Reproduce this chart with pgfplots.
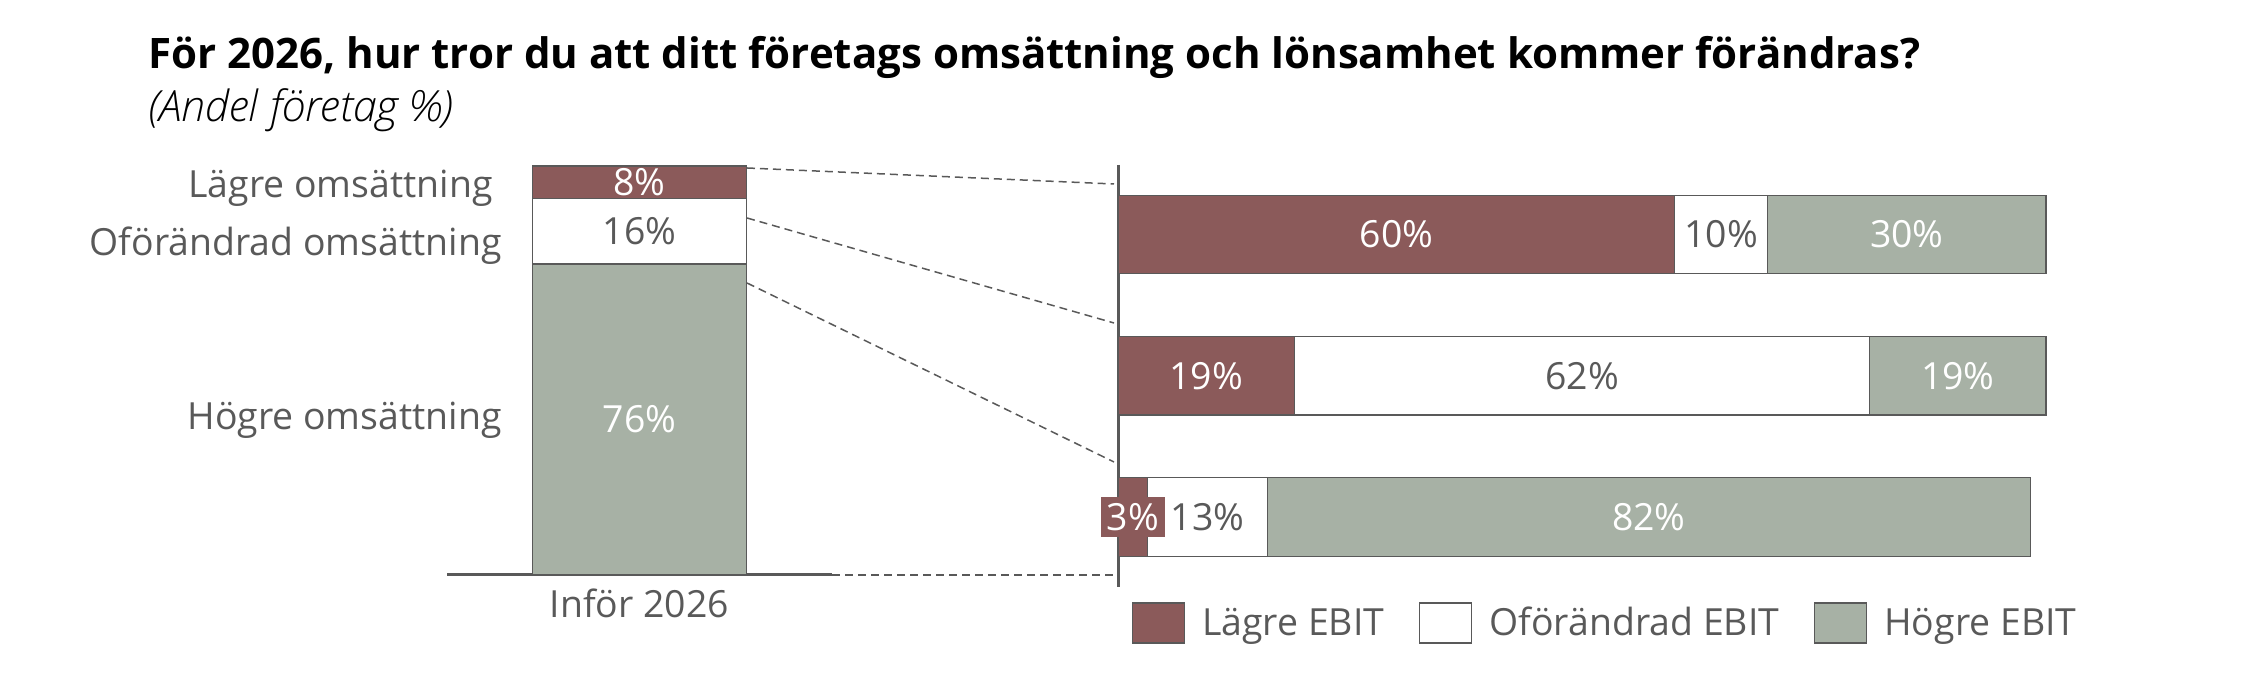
\documentclass[border=0pt]{standalone}
\usepackage{fontspec}
\setmainfont{Open Sans}
\IfFontExistsTF{Open Sans Light Italic}{\newfontfamily\subfont{Open Sans Light Italic}}{\newfontfamily\subfont{Open Sans}[UprightFont=*-Italic]}
\usepackage{pgfplots}
\pgfplotsset{compat=1.18}
\definecolor{redc}{HTML}{8B5A5A}
\definecolor{grnc}{HTML}{A7B1A5}
\definecolor{txt}{HTML}{595959}
\newcommand{\lf}{\fontsize{18.7}{22}\selectfont}
\begin{document}
\begin{tikzpicture}[x=1pt,y=1pt]
\path[use as bounding box] (0,0) rectangle (1125,339);
\node[anchor=base west, inner sep=0pt, font=\fontsize{21}{25}\selectfont\bfseries] at (74,304.5) {För 2026, hur tror du att ditt företags omsättning och lönsamhet kommer förändras?};
\node[anchor=base west, inner sep=0pt, font=\fontsize{21.5}{25}\subfont] at (74,278) {(Andel företag \%)};

\begin{axis}[
  at={(223.5pt,51.75pt)}, anchor=south west, scale only axis,
  width=192.5pt, height=204.25pt,
  xmin=-1, xmax=1, ymin=0, ymax=100,
  ybar stacked, bar width=107pt,
  axis x line=bottom, axis y line=none,
  axis line style={-, draw=txt, line width=1.5pt},
  xtick=\empty, ytick=\empty, clip=false,
]
\addplot[fill=grnc, draw=txt, line width=0.6pt] coordinates {(0,76)};
\addplot[fill=white, draw=txt, line width=0.6pt] coordinates {(0,16)};
\addplot[fill=redc, draw=txt, line width=0.6pt] coordinates {(0,8)};
\coordinate (a1) at (axis cs:0,96);
\coordinate (a2) at (axis cs:0,84);
\coordinate (a3) at (axis cs:0,38);
\coordinate (c1) at (axis cs:-0.761,92.4);
\coordinate (c2) at (axis cs:-0.714,78.2);
\coordinate (c3) at (axis cs:-0.714,35.4);
\coordinate (c4) at (axis cs:0,0);
\end{axis}

\begin{axis}[
  at={(559pt,45.5pt)}, anchor=south west, scale only axis,
  width=464pt, height=211pt,
  xmin=0, xmax=100, ymin=0.508, ymax=3.496, y dir=reverse,
  xbar stacked, bar width=39.25pt,
  axis y line=left, axis x line=none,
  axis line style={-, draw=txt, line width=1.5pt},
  xtick=\empty, ytick=\empty, clip=false,
  legend columns=-1,
  legend image code/.code={\draw[#1, line width=0.6pt] (0pt,-10pt) rectangle (26pt,10pt);},
  legend style={at={(axis description cs:0.0151,-0.0853)}, anchor=west,
    draw=none, fill=none, inner sep=0pt, outer sep=0pt,
    nodes={inner sep=0pt, text=txt, font=\lf},
    /tikz/every odd column/.append style={column sep=8.5pt},
    /tikz/every even column/.append style={column sep=17.5pt}},
]
\addplot[fill=redc, draw=txt, line width=0.6pt] coordinates {(60,1) (19,2) (3.2,3)};
\addplot[fill=white, draw=txt, line width=0.6pt] coordinates {(10,1) (62,2) (12.9,3)};
\addplot[fill=grnc, draw=txt, line width=0.6pt] coordinates {(30,1) (19,2) (82.2,3)};
\legend{Lägre EBIT, Oförändrad EBIT, Högre EBIT}
\coordinate (b11) at (axis cs:30,1);
\coordinate (b12) at (axis cs:65,1);
\coordinate (b13) at (axis cs:85,1);
\coordinate (b21) at (axis cs:9.5,2);
\coordinate (b22) at (axis cs:50,2);
\coordinate (b23) at (axis cs:90.5,2);
\coordinate (b31) at (axis cs:1.6,3);
\coordinate (b32) at (axis cs:9.65,3);
\coordinate (b33) at (axis cs:57.2,3);
\end{axis}

\begin{scope}[font=\lf]
\node[white] at (a1) {8\%};
\node[txt] at (a2) {16\%};
\node[white] at (a3) {76\%};
\node[txt, anchor=base east, inner sep=0pt] at (c1) {Lägre omsättning};
\node[txt, anchor=base east, inner sep=0pt] at (c2) {Oförändrad omsättning};
\node[txt, anchor=base east, inner sep=0pt] at (c3) {Högre omsättning};
\node[txt, anchor=base, inner sep=0pt] at ([yshift=-21.75pt]c4) {Inför 2026};
\node[white] at (b11) {60\%};
\node[txt] at (b12) {10\%};
\node[white] at (b13) {30\%};
\node[white] at (b21) {19\%};
\node[txt] at (b22) {62\%};
\node[white] at (b23) {19\%};
\node[white, fill=redc, inner xsep=3pt, minimum height=20pt] at (b31) {3\%};
\node[txt] at (b32) {13\%};
\node[white] at (b33) {82\%};
\end{scope}

\begin{scope}[txt, line width=0.75pt, dash pattern=on 4pt off 2.5pt]
\draw (373.5,255) -- (557,247);
\draw (373.5,230) -- (557,177.5);
\draw (373.5,197.5) -- (557,108);
\draw (416,51.5) -- (557,51.5);
\end{scope}
\end{tikzpicture}
\end{document}
